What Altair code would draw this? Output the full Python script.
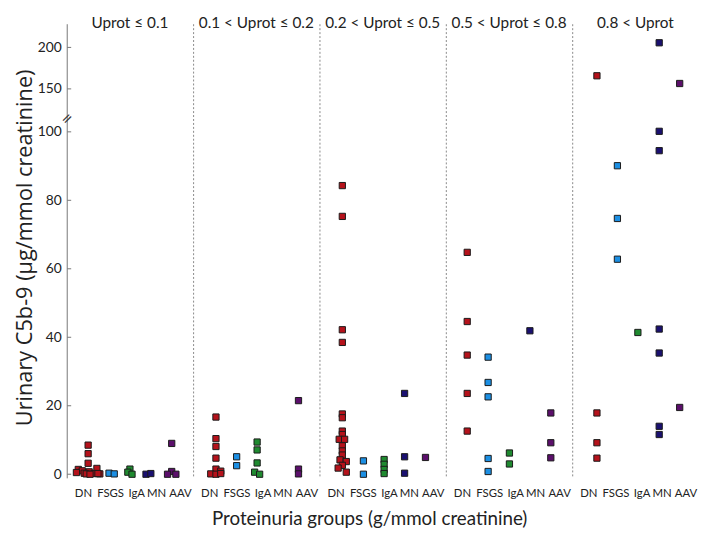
import altair as alt
import pandas as pd

categories = ["DN", "FSGS", "IgA", "MN", "AAV"]
colors = ["#b5121b", "#1c8fe3", "#1f8a30", "#1a1070", "#5b0f6b"]
groups = ["Uprot \u2264 0.1", "0.1 < Uprot \u2264 0.2", "0.2 < Uprot \u2264 0.5",
          "0.5 < Uprot \u2264 0.8", "0.8 < Uprot"]
# where each category label sits (in category units, the labels are spread wider than the points)
label_pos = [-0.25, 1.05, 2.3, 3.25, 4.4]

# values (ug/mmol creatinine) per panel per disease
p1_values = {"DN": [8.5, 6.0, 3.2, 1.7, 1.4, 1.0, 0.7, 0.5, 0.3, 0.2, 0.1, 0.1, 0.0, 0.2],
             "FSGS": [0.3, 0.1], "IgA": [1.5, 0.6, 0.0], "MN": [0.0, 0.2],
             "AAV": [9.0, 0.8, 0.0, 0.0]}
p1_jitter = {"DN": [0, 0, 0, 0.42, -0.47, -0.28, 0.05, -0.56, -0.19, 0.28, 0.56, -0.09, 0.09, 0.47],
             "FSGS": [0, 0.25], "IgA": [0, -0.1, 0.1], "MN": [-0.23, 0],
             "AAV": [0, 0, -0.2, 0.2]}

p2_values = {"DN": [16.7, 10.4, 8.1, 4.7, 1.5, 0.9, 0.1, 0.0, 0.2],
             "FSGS": [5.1, 2.5], "IgA": [9.4, 7.1, 3.3, 0.6, 0.0], "MN": [],
             "AAV": [21.5, 1.5, 0.1]}
p2_jitter = {"DN": [0.07, 0.07, 0.07, 0.07, 0.07, 0.3, -0.18, 0.07, 0.3],
             "FSGS": [0.06, 0.06], "IgA": [0.04, 0.04, 0.04, -0.08, 0.16], "MN": [],
             "AAV": [0.02, 0.02, 0.02]}

p3_values = {"DN": [84.3, 75.3, 42.2, 38.5, 17.6, 16.5, 12.6, 11.6, 10.2, 10.2, 8.3, 6.8,
                    5.6, 4.2, 3.7, 2.6, 1.8, 0.6],
             "FSGS": [3.9, 0.0], "IgA": [4.3, 2.9, 1.4, 0.2], "MN": [23.6, 5.1, 0.3],
             "AAV": [4.9]}
p3_jitter = {"DN": [0.07, 0.07, 0.07, 0.07, 0.07, 0.07, 0.07, 0.07, -0.08, 0.18, 0.07, 0.07,
                    0.07, -0.04, 0.26, 0.07, -0.13, 0.26],
             "FSGS": [0.08, 0.08], "IgA": [0.07, 0.07, 0.07, 0.07], "MN": [0.05, 0.05, 0.05],
             "AAV": [0.05]}

p4_values = {"DN": [64.8, 44.6, 34.8, 23.6, 12.6], "FSGS": [34.2, 26.8, 22.6, 4.6, 0.8],
             "IgA": [6.2, 3.0], "MN": [41.9], "AAV": [17.9, 9.2, 4.8]}
p4_jitter = {"DN": [0] * 5, "FSGS": [0] * 5, "IgA": [0.02, 0.02], "MN": [0], "AAV": [0] * 3}

p5_values = {"DN": [165.8, 17.9, 9.2, 4.7], "FSGS": [90.1, 74.7, 62.8], "IgA": [41.4],
             "MN": [205.6, 100.6, 94.5, 42.4, 35.4, 14.0, 11.6], "AAV": [156.5, 19.5]}
p5_jitter = {"DN": [0.16] * 4, "FSGS": [0.14] * 3, "IgA": [0.12], "MN": [0.14] * 7,
             "AAV": [0.12] * 2}

panel_values = [p1_values, p2_values, p3_values, p4_values, p5_values]
panel_jitter = [p1_jitter, p2_jitter, p3_jitter, p4_jitter, p5_jitter]

tick_values = [0, 20, 40, 60, 80, 100, 150, 200]
axis_break = 115

FONT = "Lato"
PW, PH = 127, 468
AX_TOP = 8  # where the axis line starts inside the plot area

yscale = alt.Scale(domain=[-1.2, 100, 150, 200, 237.5], range=[PH, 117, 73.5, 31.5, 0],
                   nice=False, zero=False)
xscale = alt.Scale(domain=[-1, 5], nice=False, zero=False)
label_expr = "[" + ",".join("'%s'" % c for c in categories) + "][round(datum.value)]"
xaxis = alt.Axis(values=label_pos, labelExpr=label_expr, title=None,
                 domain=False, ticks=False, grid=False, labelFontSize=11.5, labelFont=FONT,
                 labelColor="#222", labelPadding=9, labelAngle=0, labelOverlap=False)
yaxis = alt.Axis(values=tick_values, title="Urinary C5b-9 (\u00b5g/mmol creatinine)",
                 titleFontSize=22, titleFont="Open Sans", titleFontWeight="normal",
                 titleColor="#222", titlePadding=1, labelFontSize=14, labelFont=FONT,
                 labelColor="#222", labelPadding=6, ticks=False, tickSize=0, grid=False,
                 domain=False)
color = alt.Color("disease:N", scale=alt.Scale(domain=categories, range=colors), legend=None)

panels = []
for i in range(5):
    rows = []
    for d in categories:
        for v, j in zip(panel_values[i][d], panel_jitter[i][d]):
            rows.append({"disease": d, "idx": categories.index(d), "jitter": j, "value": v})
    df = pd.DataFrame(rows, columns=["disease", "idx", "jitter", "value"])
    pts = alt.Chart(df).transform_calculate(pos="datum.idx + datum.jitter").mark_square(
        size=40, stroke="#1a1a1a", strokeWidth=1, opacity=1
    ).encode(
        x=alt.X("pos:Q", scale=xscale, axis=xaxis),
        y=alt.Y("value:Q", scale=yscale, axis=yaxis if i == 0 else None),
        color=color,
    )
    title = alt.Chart(pd.DataFrame({"g": [groups[i]]})).mark_text(
        fontSize=15.5, font=FONT, color="#222", baseline="top", align="center"
    ).encode(text="g:N", x=alt.value(PW / 2), y=alt.value(0))
    layers = [pts, title]
    if i == 0:
        ticks = alt.Chart(pd.DataFrame({"t": tick_values})).mark_rule(
            color="#777", strokeWidth=1
        ).encode(y=alt.Y("t:Q", scale=yscale, axis=yaxis), x=alt.value(0), x2=alt.value(4))
        dom = alt.Chart(pd.DataFrame({"s": [1]})).mark_rule(color="#777", strokeWidth=1).encode(
            x=alt.value(0), y=alt.value(AX_TOP), y2=alt.value(PH))
        brk = alt.Chart(pd.DataFrame({"b": [axis_break]})).mark_text(
            text="=", fontSize=14, angle=315, color="#333", font="DejaVu Sans"
        ).encode(y=alt.Y("b:Q", scale=yscale, axis=yaxis), x=alt.value(0))
        layers += [ticks, dom, brk]
    else:
        sep = alt.Chart(pd.DataFrame({"s": [1]})).mark_rule(
            color="#888", strokeDash=[2, 2], strokeWidth=1
        ).encode(x=alt.value(0), y=alt.value(AX_TOP), y2=alt.value(PH))
        layers.append(sep)
    panels.append(alt.layer(*layers).properties(width=PW, height=PH))

chart = alt.hconcat(*panels, spacing=0).properties(
    title=alt.TitleParams("Proteinuria groups (g/mmol creatinine)", orient="bottom",
                          anchor="middle", fontSize=19, font=FONT, fontWeight="normal",
                          color="#222", offset=12, dx=14)
).configure_view(stroke=None)

chart.save("out.html", embed_options={"renderer": "svg", "actions": False})
